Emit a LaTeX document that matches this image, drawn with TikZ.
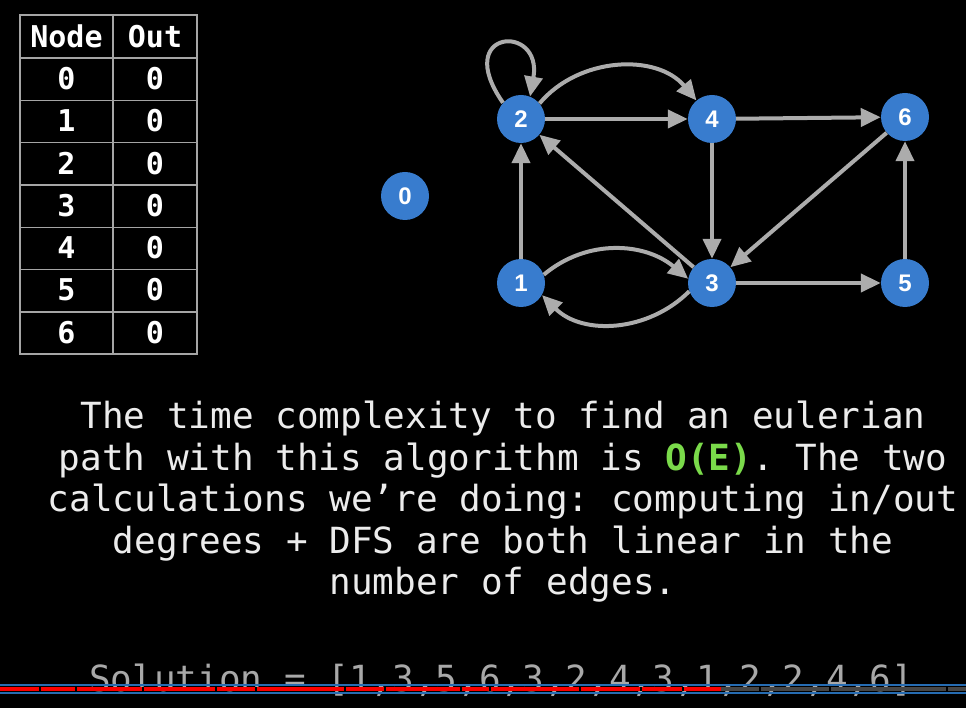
\documentclass[tikz,border=0pt]{standalone}
\usepackage{fontspec}
\usetikzlibrary{arrows.meta}
\newfontfamily\codefont{DejaVu Sans Mono}
\newfontfamily\labelfont{Liberation Sans}
\frenchspacing
\definecolor{nodeblue}{RGB}{56,124,206}
\definecolor{edgegrey}{RGB}{172,172,172}
\definecolor{textwhite}{RGB}{236,236,236}
\definecolor{bigo}{RGB}{122,218,74}
\definecolor{solgrey}{RGB}{168,168,168}
\definecolor{gridgrey}{RGB}{165,165,165}
\definecolor{barblue}{RGB}{38,108,178}
\definecolor{barred}{RGB}{250,0,0}
\definecolor{bargrey}{RGB}{70,70,70}
\tikzset{
  vertex/.style={circle, fill=nodeblue, minimum size=48pt, inner sep=0pt, text=white,
    font=\labelfont\bfseries\fontsize{24}{24}\selectfont},
  link/.style={draw=edgegrey, line width=4pt, -{Triangle[length=20pt,width=18pt]}},
  cell/.style={text=white, inner sep=0pt, font=\codefont\bfseries\fontsize{30}{30}\selectfont},
  prose/.style={text=textwhite, inner sep=0pt, anchor=base, font=\codefont\fontsize{36}{36}\selectfont},
  gap/.style={fill=black},
}
\begin{document}
\begin{tikzpicture}[x=1pt,y=1pt]
        \fill[black] (0,0) rectangle (966,708);
        \useasboundingbox (0,0) rectangle (966,708);
        % table
        \draw[gridgrey, line width=1.5pt] (20,354) rectangle (197,693);
        \draw[gridgrey, line width=1.5pt] (113,354) -- (113,693);
        \draw[gridgrey, line width=1.5pt] (20,650) -- (197,650);
        \draw[gridgrey, line width=1.5pt] (20,607.7) -- (197,607.7);
        \draw[gridgrey, line width=1.5pt] (20,565.3) -- (197,565.3);
        \draw[gridgrey, line width=1.5pt] (20,523) -- (197,523);
        \draw[gridgrey, line width=1.5pt] (20,480.7) -- (197,480.7);
        \draw[gridgrey, line width=1.5pt] (20,438.3) -- (197,438.3);
        \draw[gridgrey, line width=1.5pt] (20,396) -- (197,396);
        \node[cell] (hnode) at (66.5,671.5) {Node};
        \node[cell] (hout) at (155,671.5) {Out};
        \node[cell] (t0) at (66.5,629) {0};
        \node[cell] (o0) at (155,629) {0};
        \node[cell] (t1) at (66.5,587) {1};
        \node[cell] (o1) at (155,587) {0};
        \node[cell] (t2) at (66.5,544.5) {2};
        \node[cell] (o2) at (155,544.5) {0};
        \node[cell] (t3) at (66.5,502) {3};
        \node[cell] (o3) at (155,502) {0};
        \node[cell] (t4) at (66.5,460) {4};
        \node[cell] (o4) at (155,460) {0};
        \node[cell] (t5) at (66.5,418) {5};
        \node[cell] (o5) at (155,418) {0};
        \node[cell] (t6) at (66.5,375.5) {6};
        \node[cell] (o6) at (155,375.5) {0};
        % graph
        \node[vertex] (n0) at (405,512) {0};
        \node[vertex] (n1) at (521,425) {1};
        \node[vertex] (n2) at (521,589) {2};
        \node[vertex] (n3) at (712,425) {3};
        \node[vertex] (n4) at (712,589) {4};
        \node[vertex] (n5) at (905,425) {5};
        \node[vertex] (n6) at (905,591) {6};
        \draw[link] (n2.138) .. controls +(125:90) and +(80:75) .. (n2.68);
        \draw[link] (n2.40) to[out=50,in=130] (n4.130);
        \draw[link] (n2) -- (n4);
        \draw[link] (n4) -- (n6);
        \draw[link] (n4) -- (n3);
        \draw[link] (n6) -- (n3);
        \draw[link] (n3) -- (n2);
        \draw[link] (n1) -- (n2);
        \draw[link] (n1.20) to[out=40,in=140] (n3.170);
        \draw[link] (n3.200) to[out=225,in=-45] (n1.330);
        \draw[link] (n3) -- (n5);
        \draw[link] (n5) -- (n6);
        % text
        \node[prose] (l1) at (503,279) {The time complexity to find an eulerian};
        \node[prose] (l2) at (503,237) {path with this algorithm is {\bfseries\color{bigo}O(E)}. The two};
        \node[prose] (l3) at (503,196) {calculations we’re doing: computing in/out};
        \node[prose] (l4) at (503,154) {degrees + DFS are both linear in the};
        \node[prose] (l5) at (503,113) {number of edges.};
        \node[prose, text=solgrey] (sol) at (501,16) {Solution = [1,3,5,6,3,2,4,3,1,2,2,4,6]};
        % progress bar
        \draw[barblue, line width=2pt] (0,23) -- (966,23);
        \draw[barblue, line width=2pt] (0,15) -- (966,15);
        \draw[barred, line width=4pt] (0,19) -- (721,19);
        \draw[bargrey, line width=4pt] (721,19) -- (966,19);
        \fill[gap] (39,17) rectangle (41,21);
        \fill[gap] (75,17) rectangle (77,21);
        \fill[gap] (142,17) rectangle (144,21);
        \fill[gap] (215,17) rectangle (217,21);
        \fill[gap] (255,17) rectangle (257,21);
        \fill[gap] (344,17) rectangle (346,21);
        \fill[gap] (384,17) rectangle (386,21);
        \fill[gap] (460,17) rectangle (462,21);
        \fill[gap] (489,17) rectangle (491,21);
        \fill[gap] (579,17) rectangle (581,21);
        \fill[gap] (640,17) rectangle (642,21);
        \fill[gap] (682,17) rectangle (684,21);
        \fill[gap] (759,17) rectangle (761,21);
        \fill[gap] (829,17) rectangle (831,21);
        \fill[gap] (946,17) rectangle (948,21);
      \end{tikzpicture}
\end{document}
